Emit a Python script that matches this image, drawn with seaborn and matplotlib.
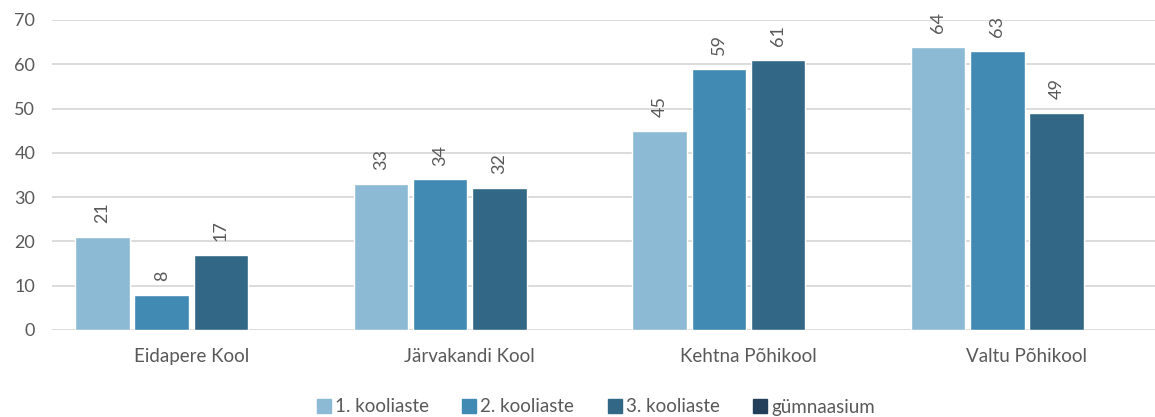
import matplotlib
matplotlib.use('Agg')
import matplotlib.pyplot as plt
import seaborn as sns
import pandas as pd
import numpy as np
from matplotlib.lines import Line2D

schools = ['Eidapere Kool', 'Järvakandi Kool', 'Kehtna Põhikool', 'Valtu Põhikool']
levels = ['1. kooliaste', '2. kooliaste', '3. kooliaste', 'gümnaasium']
aste1 = [21, 33, 45, 64]
aste2 = [8, 34, 59, 63]
aste3 = [17, 32, 61, 49]
gymn = [np.nan, np.nan, np.nan, np.nan]
colors = ['#8CB9D4', '#418AB3', '#326886', '#243F5A']

rows = []
for vals, lev in zip([aste1, aste2, aste3, gymn], levels):
    for s, v in zip(schools, vals):
        rows.append({'kool': s, 'aste': lev, 'arv': v})
df = pd.DataFrame(rows)

sns.set_style('white')
plt.rcParams['font.family'] = ['Lato', 'DejaVu Sans']
text_col = '#595959'

fig = plt.figure(figsize=(11.55, 4.17), dpi=100)
ax = fig.add_axes([52 / 1155, 1 - 330 / 417, 1 - 52 / 1155, 310 / 417])

sns.barplot(data=df, x='kool', y='arv', hue='aste', order=schools, hue_order=levels,
            palette=colors, width=0.85, gap=0.08, errorbar=None, ax=ax, legend=False,
            saturation=1)

# value labels, rotated like the original
for cont in ax.containers:
    ax.bar_label(cont, fmt='%g', rotation=90, padding=10, fontsize=13, color=text_col)

ax.set_ylim(0, 70)
ax.set_yticks(range(0, 71, 10))
ax.set_xlim(-0.5, 3.46)
ax.yaxis.grid(True, color='#D9D9D9', linewidth=1.3)
ax.set_axisbelow(True)
for sp in ax.spines.values():
    sp.set_visible(False)
ax.set_xlabel('')
ax.set_ylabel('')
ax.tick_params(axis='both', length=0, labelcolor=text_col)
ax.tick_params(axis='x', pad=13, labelsize=13.5)
ax.tick_params(axis='y', pad=12, labelsize=13)

handles = [Line2D([], [], marker='s', linestyle='', markersize=10, color=c) for c in colors]
fig.legend(handles, levels, loc='center', bbox_to_anchor=(596 / 1155, 1 - 407 / 417), ncol=4,
           frameon=False, fontsize=13.5, labelcolor=text_col, handlelength=0.7,
           handletextpad=0.25, columnspacing=1.8)

fig.savefig('out.png', dpi=100)
